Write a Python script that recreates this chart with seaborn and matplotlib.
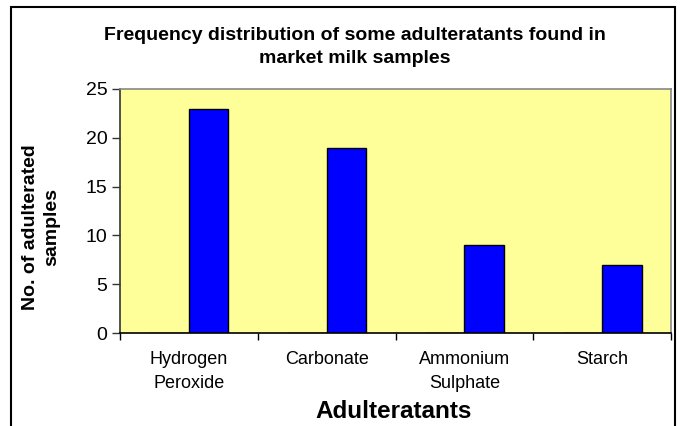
import numpy as np
import pandas as pd
import seaborn as sns
import matplotlib.pyplot as plt
from matplotlib.patches import Rectangle

# chart data
categories = ["Hydrogen\nPeroxide", "Carbonate", "Ammonium\nSulphate", "Starch"]
counts = [23, 19, 9, 7]
# Excel chart had an empty first series, the real bars sit right of centre
blank = [0, 0, 0, 0]

df = pd.DataFrame({
    "category": categories * 2,
    "value": blank + counts,
    "series": ["blank"] * 4 + ["count"] * 4,
})

sns.set_style("white")
plt.rcParams['font.family'] = ['Liberation Sans', 'DejaVu Sans']
plt.rcParams['text.color'] = 'black'
plt.rcParams['xtick.color'] = 'black'
plt.rcParams['ytick.color'] = 'black'

fig = plt.figure(figsize=(6.83, 4.26), dpi=100)
ax = fig.add_axes([120 / 683, 1 - 333 / 426, 551 / 683, 244 / 426])
ax.set_facecolor("#FFFF99")

sns.barplot(data=df, x="category", y="value", hue="series",
            hue_order=["blank", "count"], order=categories,
            palette={"blank": "#0000FF", "count": "#0000FF"},
            edgecolor="black", linewidth=1.0, width=0.572,
            legend=False, ax=ax, saturation=1)

ax.set_xlim(-0.5, 3.5)
ax.set_ylim(0, 25)
ax.set_yticks(np.arange(0, 26, 5))
ax.tick_params(axis="y", labelsize=14, length=6, width=1, color="#333333",
               labelcolor="black", direction="out", left=True, pad=3)

# ticks at category boundaries, labels at the centres
ax.set_xticks(np.arange(-0.5, 4, 1))
ax.set_xticklabels([])
ax.set_xticks(range(len(categories)), minor=True)
ax.set_xticklabels(categories, minor=True, fontsize=13, linespacing=1.5)
ax.tick_params(axis="x", which="major", length=5, width=1, color="black",
               direction="out", bottom=True)
ax.tick_params(axis="x", which="minor", length=0, pad=13, labelcolor="black")

for side in ["top", "right"]:
    ax.spines[side].set_color("#888888")
    ax.spines[side].set_linewidth(1.2)
ax.spines["left"].set_color("#333333")
ax.spines["bottom"].set_color("black")
ax.spines["left"].set_linewidth(1.2)
ax.spines["bottom"].set_linewidth(1.2)

ax.set_xlabel("")
ax.set_ylabel("")

fig.text(355 / 683, 1 - 47 / 426, "Frequency distribution of some adulteratants found in\nmarket milk samples",
         ha="center", va="center", fontsize=14, fontweight="bold", linespacing=1.4)
fig.text(41 / 683, 1 - 227 / 426, "No. of adulterated\nsamples", rotation=90,
         ha="center", va="center", fontsize=14, fontweight="bold", linespacing=1.3)
fig.text(394 / 683, 1 - 412 / 426, "Adulteratants", ha="center", va="center",
         fontsize=17.5, fontweight="bold")

# outer chart border (bottom edge is cut off in the original)
fig.patches.append(Rectangle((11 / 683, -0.1), 664 / 683, 1.1 - 7 / 426,
                             transform=fig.transFigure, fill=False,
                             edgecolor="black", linewidth=1.5))

plt.savefig("out.png", dpi=100)
